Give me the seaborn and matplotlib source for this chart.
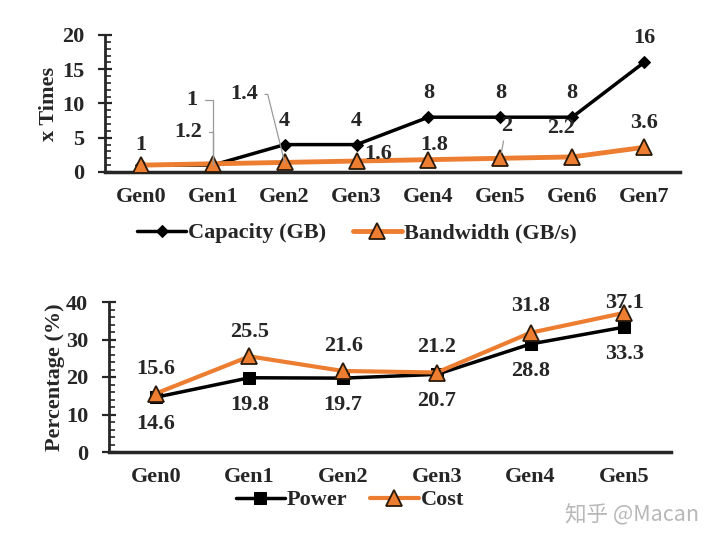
import numpy as np
import pandas as pd
import seaborn as sns
import matplotlib.pyplot as plt
from matplotlib.ticker import MultipleLocator

# top panel data
gens_top = ["Gen0", "Gen1", "Gen2", "Gen3", "Gen4", "Gen5", "Gen6", "Gen7"]
capacity = [1, 1, 4, 4, 8, 8, 8, 16]
bandwidth = [1, 1.2, 1.4, 1.6, 1.8, 2, 2.2, 3.6]

# bottom panel data
gens_bot = ["Gen0", "Gen1", "Gen2", "Gen3", "Gen4", "Gen5"]
power = [14.6, 19.8, 19.7, 20.7, 28.8, 33.3]
cost = [15.6, 25.5, 21.6, 21.2, 31.8, 37.1]

ORANGE = "#ED7D31"
FS = 16

sns.set_style("ticks")
plt.rcParams["font.family"] = ["Liberation Serif", "DejaVu Serif"]
plt.rcParams["font.weight"] = "bold"

fig = plt.figure(figsize=(7.07, 5.42), dpi=100)
W, H = 707, 542


def px_axes(left, top, right, bottom):
    return fig.add_axes([left / W, 1 - bottom / H, (right - left) / W, (bottom - top) / H])


def style_axes(ax, ymax, major, minor):
    sns.despine(ax=ax)
    ax.spines["left"].set_linewidth(2)
    ax.spines["bottom"].set_linewidth(2.5)
    ax.set_ylim(0, ymax)
    ax.yaxis.set_major_locator(MultipleLocator(major))
    ax.yaxis.set_minor_locator(MultipleLocator(minor))
    ax.tick_params(axis="y", which="major", direction="inout", length=10, width=1.6,
                   labelsize=FS, pad=10)
    ax.tick_params(axis="y", which="minor", direction="in", length=4.5, width=1.2)
    ax.tick_params(axis="x", length=0, labelsize=FS, pad=11)
    for t in ax.get_xticklabels() + ax.get_yticklabels():
        t.set_fontweight("bold")


def label(ax, x, y, txt, dx, dy, **kw):
    ax.annotate(txt, (x, y), xytext=(dx, dy), textcoords="offset pixels",
                ha="center", va="center", fontsize=FS, fontweight="bold", **kw)


# ---------------- top panel ----------------
ax1 = px_axes(105, 35, 680, 172)
sns.lineplot(x=gens_top, y=capacity, ax=ax1, color="black", lw=2.5, marker="D",
             markersize=6, markeredgecolor="black", label="Capacity (GB)", zorder=2)
sns.lineplot(x=gens_top, y=bandwidth, ax=ax1, color=ORANGE, lw=3.5, marker="^",
             markersize=11, markerfacecolor=ORANGE, markeredgecolor="#2a1a0a",
             markeredgewidth=1.3, label="Bandwidth (GB/s)", zorder=3)
ax1.set_xlim(-0.5, 7.5)
style_axes(ax1, 20, 5, 1)
ax1.set_xlabel("")
ax1.set_ylabel("x Times", fontsize=FS, fontweight="bold", labelpad=2)

cap_off = [(0, 20), None, (0, 24), (0, 24), (0, 24), (0, 24), (0, 24), (0, 24)]
for i, (v, off) in enumerate(zip(capacity, cap_off)):
    if off is not None:
        label(ax1, i, v, f"{v:g}", *off)

bw_off = [None, None, None, (22, 7), (6, 15), None, (-11, 29), (0, 24)]
for i, (v, off) in enumerate(zip(bandwidth, bw_off)):
    if off is not None:
        label(ax1, i, v, f"{v:g}", *off)

lead = dict(arrowstyle="-", color="#9a9a9a", lw=0.9)
label(ax1, 1, capacity[1], f"{capacity[1]:g}", -21, 65,
      arrowprops=dict(lead, connectionstyle="angle,angleA=0,angleB=90,rad=0", shrinkA=3, shrinkB=0))
label(ax1, 1, bandwidth[1], f"{bandwidth[1]:g}", -25, 32,
      arrowprops=dict(lead, connectionstyle="angle,angleA=0,angleB=90,rad=0", shrinkA=3, shrinkB=0))
label(ax1, 2, bandwidth[2], f"{bandwidth[2]:g}", -41, 68,
      arrowprops=dict(lead, connectionstyle="angle,angleA=0,angleB=104,rad=0", shrinkA=3, shrinkB=0))
label(ax1, 5, bandwidth[5], f"{bandwidth[5]:g}", 6, 32,
      arrowprops=dict(lead, shrinkA=1, shrinkB=4))

ax1.legend(loc="center", bbox_to_anchor=(357 / W, 1 - 233 / H),
           bbox_transform=fig.transFigure, ncol=2, frameon=False,
           handlelength=2.2, handletextpad=0.1, columnspacing=1.2,
           prop={"weight": "bold", "size": FS})

# ---------------- bottom panel ----------------
ax2 = px_axes(109, 302, 671, 452)
sns.lineplot(x=gens_bot, y=power, ax=ax2, color="black", lw=2.5, marker="s",
             markersize=9, markeredgecolor="black", label="Power", zorder=2)
sns.lineplot(x=gens_bot, y=cost, ax=ax2, color=ORANGE, lw=3, marker="^",
             markersize=11, markerfacecolor=ORANGE, markeredgecolor="#2a1a0a",
             markeredgewidth=1.3, label="Cost", zorder=3)
ax2.set_xlim(-0.5, 5.5)
style_axes(ax2, 40, 10, 2)
ax2.set_xlabel("")
ax2.set_ylabel("Percentage (%)", fontsize=FS, fontweight="bold", labelpad=1)

for i, v in enumerate(power):
    label(ax2, i, v, f"{v:g}", 0, -27)
cost_dy = [25, 24, 25, 25, 27, 10]
for i, (v, dy) in enumerate(zip(cost, cost_dy)):
    label(ax2, i, v, f"{v:g}", 0, dy)

ax2.legend(loc="center", bbox_to_anchor=(350 / W, 1 - 500 / H),
           bbox_transform=fig.transFigure, ncol=2, frameon=False,
           handlelength=2.2, handletextpad=0.1, columnspacing=1.0,
           prop={"weight": "bold", "size": FS})

fig.text(632 / W, 1 - 515 / H, "知乎 @Macan", ha="center", va="center",
         fontsize=15.5, color="#b8b8b8", family=["Noto Sans CJK SC", "DejaVu Sans"],
         fontweight="normal")

fig.savefig("out.png", dpi=100)
